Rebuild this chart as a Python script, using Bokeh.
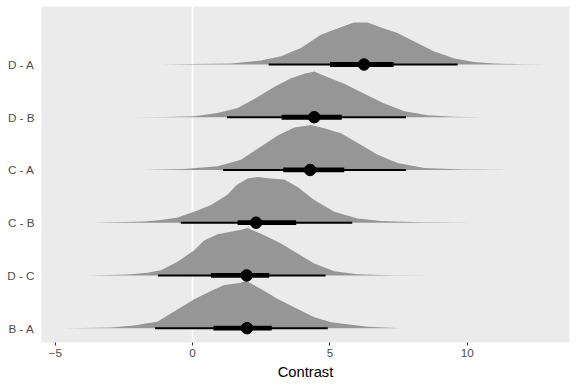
from bokeh.plotting import figure
from bokeh.models import Range1d, FixedTicker, Span
from bokeh.embed import file_html
from bokeh.resources import INLINE

# Contrasts, bottom to top
contrasts = ["B - A", "D - C", "C - B", "C - A", "D - B", "D - A"]

# Posterior density profiles (x grid and relative density)
BA_x = [-4.68, -4.0, -2.97, -2.13, -1.27, -0.79, 0.06, 0.67, 1.15, 1.76, 1.94, 2.49, 3.1, 3.7, 4.43, 5.04, 6.37, 7.6]
BA_d = [0, 0.2, 0.7, 2.7, 6.7, 14.7, 29, 37.3, 43.3, 45.7, 47.7, 39.3, 29.3, 21, 11, 6, 1.5, 0]
DC_x = [-3.77, -2.37, -1.64, -1.15, -0.55, 0.06, 0.42, 0.91, 1.76, 2.0, 2.61, 3.22, 3.82, 4.43, 5.16, 6.0, 7.2, 8.8]
DC_d = [0, 1, 2.7, 5.3, 13.7, 25.3, 35, 41.3, 46, 47.7, 40.3, 32, 22, 12, 4.3, 1.3, 0.3, 0]
CB_x = [-3.59, -1.76, -1.15, -0.55, 0.06, 0.67, 1.27, 1.6, 2.0, 2.37, 2.85, 3.34, 3.82, 4.43, 5.16, 6.0, 6.86, 8.3, 10.2]
CB_d = [0, 1.3, 2.7, 5.3, 11, 17.7, 28, 38, 44.3, 46, 44.3, 43.3, 36, 22.7, 11, 4.3, 1.7, 0.4, 0]
CA_x = [-1.77, -0.3, 0.91, 1.76, 2.49, 3.1, 3.7, 4.31, 4.79, 5.4, 6.01, 6.74, 7.46, 8.43, 9.8, 11.6]
CA_d = [0, 1, 3.7, 10.3, 23.7, 34.7, 42.7, 45.3, 42, 37, 27, 15.3, 7, 2, 0.5, 0]
DB_x = [-2.13, -1.0, 0.06, 0.91, 1.64, 2.37, 2.97, 3.58, 4.06, 4.43, 4.92, 5.52, 6.25, 6.98, 7.71, 8.56, 9.5, 10.6]
DB_d = [0, 0.3, 1, 4.3, 9.3, 20.3, 30.3, 39.3, 43.7, 46, 40.3, 33.7, 23.7, 13.7, 6, 2, 0.6, 0]
DA_x = [-1.15, 0.0, 1.4, 2.49, 3.22, 3.94, 4.67, 5.15, 5.87, 6.37, 6.86, 7.46, 8.07, 8.8, 9.53, 10.25, 11.0, 12.0, 12.87]
DA_d = [0, 0.5, 1, 4, 8.3, 16.7, 30, 35, 42.3, 42.3, 37.3, 31.7, 23, 13, 6, 2.5, 1, 0.3, 0]

# Point estimates and intervals (66% thick, 95% thin), bottom to top
point = [1.98, 1.97, 2.31, 4.28, 4.43, 6.24]
lo66 = [0.76, 0.67, 1.64, 3.30, 3.24, 5.00]
hi66 = [2.88, 2.79, 3.77, 5.52, 5.43, 7.32]
lo95 = [-1.37, -1.26, -0.43, 1.11, 1.25, 2.77]
hi95 = [4.92, 4.84, 5.81, 7.77, 7.77, 9.65]

x_ticks = [-5, 0, 5, 10]

slabs = [(BA_x, BA_d), (DC_x, DC_d), (CB_x, CB_d), (CA_x, CA_d), (DB_x, DB_d), (DA_x, DA_d)]
dmax = max(max(d) for _, d in slabs)
SCALE = 0.9

p = figure(width=574, height=382,
           x_range=Range1d(-5.5, 13.72), y_range=Range1d(0.728, 7.1),
           output_backend="svg", toolbar_location=None,
           min_border_top=6, min_border_right=5, min_border_left=41, min_border_bottom=40)

p.background_fill_color = "#EBEBEB"
p.border_fill_color = "white"
p.outline_line_color = None
p.xgrid.visible = False
p.ygrid.visible = False

zero = Span(location=0, dimension="height", line_color="white", line_width=1.6, level="underlay")
p.add_layout(zero)

ypos = list(range(1, len(contrasts) + 1))
for yb, (xs, ds) in zip(ypos, slabs):
    top = [yb + d / dmax * SCALE for d in ds]
    p.varea(x=xs, y1=[yb] * len(xs), y2=top, fill_color="#969696", fill_alpha=1.0)

p.segment(x0=lo95, x1=hi95, y0=ypos, y1=ypos, line_color="black", line_width=2)
p.segment(x0=lo66, x1=hi66, y0=ypos, y1=ypos, line_color="black", line_width=4.8)
p.scatter(x=point, y=ypos, size=11.5, fill_color="black", line_color="black")

FONT = "Liberation Sans"

xa = p.xaxis[0]
xa.ticker = FixedTicker(ticks=x_ticks)
xa.axis_line_color = None
xa.major_tick_line_color = "#333333"
xa.major_tick_in = 0
xa.major_tick_out = 3
xa.minor_tick_line_color = None
xa.major_label_text_font = FONT
xa.major_label_text_font_size = "11.7px"
xa.major_label_text_color = "#4D4D4D"
xa.major_label_standoff = 3
xa.axis_label = "Contrast"
xa.axis_label_text_font = FONT
xa.axis_label_text_font_size = "14.7px"
xa.axis_label_text_font_style = "normal"
xa.axis_label_text_color = "black"
xa.axis_label_standoff = 4

ya = p.yaxis[0]
ya.ticker = FixedTicker(ticks=ypos)
ya.major_label_overrides = {y: c for y, c in zip(ypos, contrasts)}
ya.axis_line_color = None
ya.major_tick_line_color = None
ya.major_tick_in = 0
ya.major_tick_out = 0
ya.minor_tick_line_color = None
ya.major_label_text_font = FONT
ya.major_label_text_font_size = "11.7px"
ya.major_label_text_color = "#4D4D4D"
ya.major_label_standoff = 7

open("out.html", "w").write(file_html(p, INLINE))
